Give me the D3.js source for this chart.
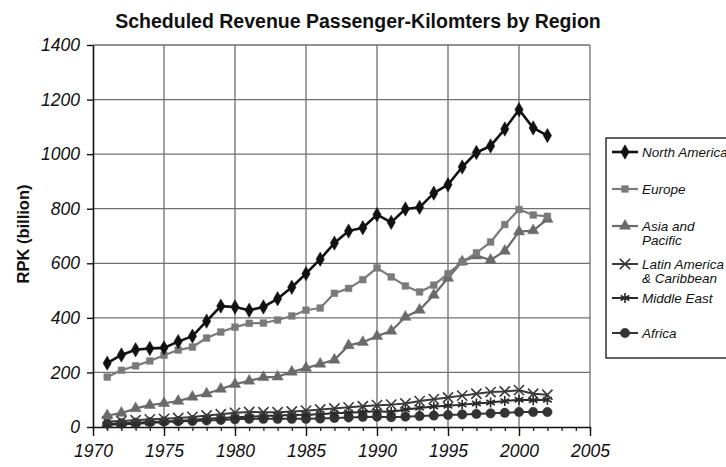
<!DOCTYPE html>
<html>
<head>
<meta charset="utf-8">
<script src="https://cdn.jsdelivr.net/npm/d3@7"></script>
<style>
body { margin: 0; background: #fff; }
svg { font-family: "Liberation Sans", Arial, sans-serif; }
</style>
</head>
<body>
<div id="chart"></div>
<script>
//////////////////////////////////////////////////////////////////////////////
// Data

var years = d3.range(1971, 2003);
var northAmerica = [234, 264, 283, 288, 290, 313, 333, 388, 443, 440, 428, 440, 470, 512, 562, 615,
                    674, 718, 730, 778, 750, 799, 805, 857, 888, 953, 1006, 1030, 1092, 1163, 1096, 1068];
var europe = [183, 208, 224, 242, 263, 282, 293, 326, 348, 366, 380, 381, 392, 407, 428, 436,
              490, 508, 540, 583, 550, 517, 495, 520, 562, 605, 638, 678, 742, 797, 777, 772];
var asiaPacific = [42, 51, 68, 80, 87, 95, 110, 122, 139, 157, 169, 182, 184, 202, 216, 231,
                   246, 299, 311, 333, 352, 403, 429, 484, 546, 606, 628, 612, 645, 716, 720, 762];
var latinAmerica = [20, 22, 25, 28, 30, 33, 37, 42, 47, 52, 55, 54, 54, 57, 60, 64,
                    68, 72, 76, 80, 82, 86, 95, 102, 108, 115, 122, 128, 130, 135, 122, 118];
var middleEast = [8, 10, 12, 15, 18, 22, 26, 30, 33, 36, 38, 40, 42, 44, 45, 47,
                  50, 52, 55, 58, 55, 64, 70, 75, 78, 82, 86, 90, 95, 100, 98, 100];
var africa = [12, 14, 16, 18, 20, 21, 22, 24, 26, 28, 30, 30, 30, 30, 30, 31,
              33, 35, 37, 38, 36, 38, 40, 42, 44, 46, 48, 50, 52, 55, 55, 55];

var regionNames = ["North America", "Europe", "Asia and\nPacific", "Latin America\n& Caribbean", "Middle East", "Africa"];
var xTicks = [1970, 1975, 1980, 1985, 1990, 1995, 2000, 2005];
var yTicks = [0, 200, 400, 600, 800, 1000, 1200, 1400];

//////////////////////////////////////////////////////////////////////////////
// Global variables, preliminaries

var width = 726, height = 467;
var plotLeft = 93, plotRight = 590, plotTop = 45, plotBottom = 427;

var xScale = d3.scaleLinear().domain([1970, 2005]).range([plotLeft, plotRight]);
var yScale = d3.scaleLinear().domain([0, 1400]).range([plotBottom, plotTop]);

var series = [
    { values: northAmerica, color: "#111", width: 2.6, symbol: d3.symbolDiamond, size: 60, filled: true },
    { values: europe,       color: "#7a7a7a", width: 2.2, symbol: d3.symbolSquare, size: 45, filled: true },
    { values: asiaPacific,  color: "#6a6a6a", width: 2.2, symbol: d3.symbolTriangle, size: 55, filled: true },
    { values: latinAmerica, color: "#3a3a3a", width: 2, symbol: d3.symbolTimes, size: 70, filled: false },
    { values: middleEast,   color: "#2a2a2a", width: 2, symbol: d3.symbolAsterisk, size: 70, filled: false },
    { values: africa,       color: "#333", width: 2, symbol: d3.symbolCircle, size: 70, filled: true }
];

var svg = d3.select("#chart")
    .append("svg")
    .attr("width", width)
    .attr("height", height);

// title
svg.append("text")
    .attr("x", 358)
    .attr("y", 28)
    .attr("text-anchor", "middle")
    .attr("font-weight", "bold")
    .attr("font-size", 19.5)
    .attr("fill", "#111")
    .text("Scheduled Revenue Passenger-Kilomters by Region");

// grid
svg.append("g")
    .selectAll("line")
    .data(yTicks.slice(1))
    .enter()
    .append("line")
    .attr("x1", plotLeft).attr("x2", plotRight)
    .attr("y1", function(d) { return yScale(d); })
    .attr("y2", function(d) { return yScale(d); })
    .attr("stroke", "#6f6f6f")
    .attr("stroke-width", 1.3);

svg.append("g")
    .selectAll("line")
    .data(xTicks.slice(1))
    .enter()
    .append("line")
    .attr("x1", function(d) { return xScale(d); })
    .attr("x2", function(d) { return xScale(d); })
    .attr("y1", plotTop).attr("y2", plotBottom)
    .attr("stroke", "#6f6f6f")
    .attr("stroke-width", 1.3);

// axes
var yAxis = svg.append("g")
    .attr("transform", "translate(" + plotLeft + ",0)")
    .call(d3.axisLeft(yScale).tickValues(yTicks).tickSize(6).tickSizeOuter(0).tickPadding(7).tickFormat(d3.format("d")));
yAxis.select(".domain").attr("stroke", "#111").attr("stroke-width", 1.6);
yAxis.selectAll(".tick line").attr("stroke", "#111").attr("stroke-width", 1.4);
yAxis.selectAll("text")
    .attr("font-family", "Liberation Sans, Arial, sans-serif")
    .attr("font-style", "italic")
    .attr("font-size", 17.5)
    .attr("fill", "#111");

var xMinor = svg.append("g")
    .attr("transform", "translate(0," + plotBottom + ")")
    .call(d3.axisBottom(xScale).tickValues(d3.range(1970, 2006)).tickSize(4).tickFormat(""));
xMinor.select(".domain").remove();
xMinor.selectAll(".tick line").attr("stroke", "#111").attr("stroke-width", 1.2);

var xAxis = svg.append("g")
    .attr("transform", "translate(0," + plotBottom + ")")
    .call(d3.axisBottom(xScale).tickValues(xTicks).tickSize(9).tickSizeOuter(0).tickPadding(9).tickFormat(d3.format("d")));
xAxis.select(".domain").attr("stroke", "#111").attr("stroke-width", 1.6);
xAxis.selectAll(".tick line").attr("stroke", "#111").attr("stroke-width", 1.4);
xAxis.selectAll("text")
    .attr("font-family", "Liberation Sans, Arial, sans-serif")
    .attr("font-style", "italic")
    .attr("font-size", 17.5)
    .attr("fill", "#111");

// y label
svg.append("text")
    .attr("transform", "translate(29,234) rotate(-90)")
    .attr("text-anchor", "middle")
    .attr("font-weight", "bold")
    .attr("font-size", 16.5)
    .attr("fill", "#111")
    .text("RPK (billion)");

// lines and markers, drawn bottom series first so North America sits on top
var line = d3.line()
    .x(function(d, i) { return xScale(years[i]); })
    .y(function(d) { return yScale(d); });

function drawMarker(sel, s) {
    return sel.append("path")
        .attr("d", d3.symbol().type(s.symbol).size(s.size))
        .attr("fill", s.filled ? s.color : "none")
        .attr("stroke", s.color)
        .attr("stroke-width", s.filled ? 0.5 : 1.6);
}

series.slice().reverse().forEach(function(s) {
    var g = svg.append("g");
    g.append("path")
        .attr("d", line(s.values))
        .attr("fill", "none")
        .attr("stroke", s.color)
        .attr("stroke-width", s.width)
        .attr("stroke-linejoin", "round");
    g.selectAll("g")
        .data(s.values)
        .enter()
        .append("g")
        .attr("transform", function(d, i) { return "translate(" + xScale(years[i]) + "," + yScale(d) + ")"; })
        .each(function() { drawMarker(d3.select(this), s); });
});

// legend
var legendY = [152, 189, 226, 264, 298, 333];
var legend = svg.append("g");
legend.append("rect")
    .attr("x", 606).attr("y", 138)
    .attr("width", 130).attr("height", 220)
    .attr("fill", "#fff")
    .attr("stroke", "#111")
    .attr("stroke-width", 1.3);

series.forEach(function(s, i) {
    var g = legend.append("g").attr("transform", "translate(0," + legendY[i] + ")");
    g.append("line")
        .attr("x1", 612).attr("x2", 638)
        .attr("stroke", s.color)
        .attr("stroke-width", s.width);
    drawMarker(g.append("g").attr("transform", "translate(625,0)"), s);
    var t = g.append("text")
        .attr("x", 642)
        .attr("y", 5)
        .attr("font-style", "italic")
        .attr("font-size", 13.5)
        .attr("fill", "#111");
    regionNames[i].split("\n").forEach(function(part, k) {
        t.append("tspan").attr("x", 642).attr("dy", k === 0 ? 0 : 14).text(part);
    });
});
</script>
</body>
</html>
